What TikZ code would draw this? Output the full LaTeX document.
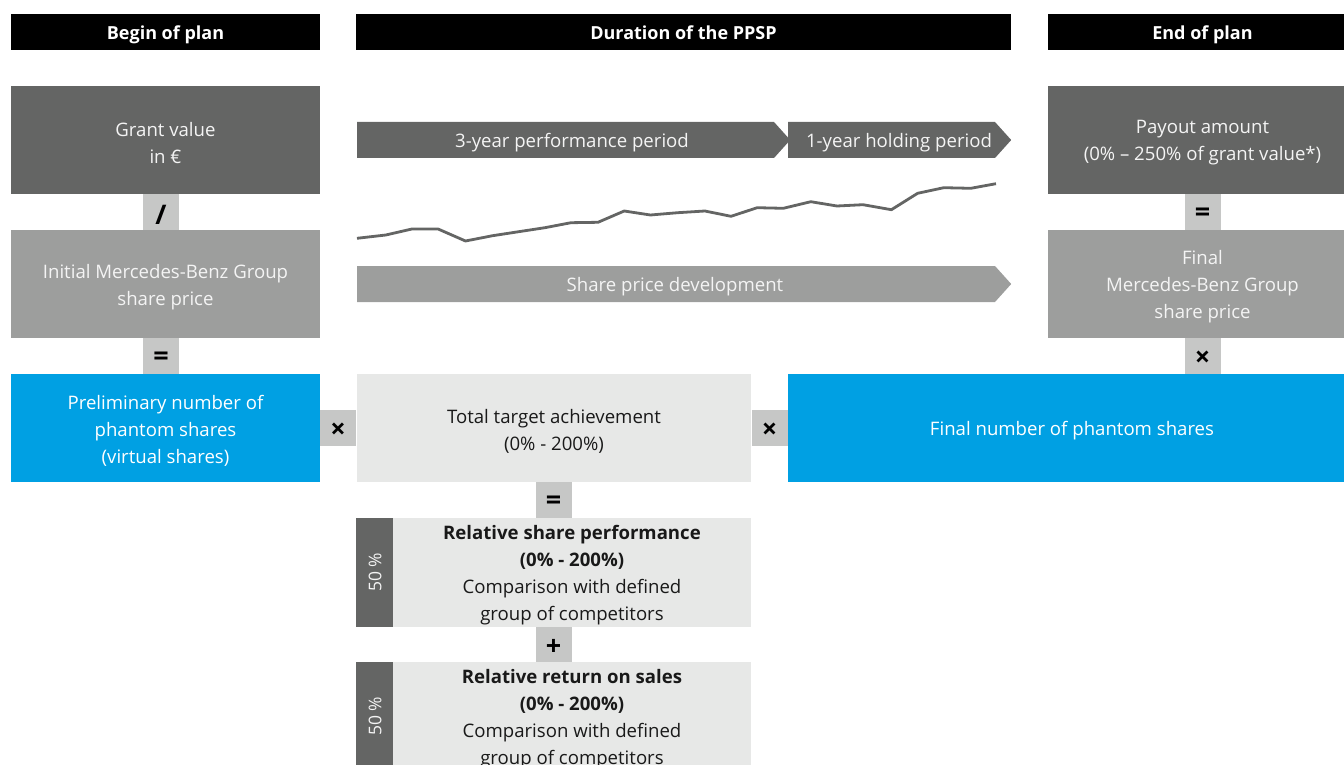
\documentclass[tikz,border=0pt]{standalone}
\usepackage{fontspec}
\setmainfont{Open Sans}
\usetikzlibrary{shapes.symbols}

\definecolor{mbdark}{HTML}{646564}
\definecolor{mbmid}{HTML}{9D9E9D}
\definecolor{mbop}{HTML}{C6C7C6}
\definecolor{mblight}{HTML}{E7E8E7}
\definecolor{mbblue}{HTML}{00A0E3}
\definecolor{mbwhite}{HTML}{F4F4F4}

\tikzset{
  boxtext/.style={yshift=-3pt},
  headbar/.style={fill=black, minimum height=36pt},
  headtext/.style={boxtext, text=white, font=\fontsize{18}{27}\selectfont\bfseries},
  darkbox/.style={fill=mbdark, minimum height=108pt},
  midbox/.style={fill=mbmid, minimum height=108pt},
  bluebox/.style={fill=mbblue, minimum height=108pt},
  lightbox/.style={fill=mblight, minimum height=109pt},
  whitetext/.style={boxtext, text=mbwhite},
  blacktext/.style={boxtext, text=black!90},
  opbox/.style={fill=mbop, minimum width=36pt, minimum height=36pt},
  optext/.style={boxtext, text=black, font=\fontsize{27}{27}\selectfont\bfseries},
  weightbox/.style={fill=mbdark, minimum width=37pt, minimum height=109pt},
  period/.style={signal, signal to=east, signal pointer angle=96, minimum height=36pt, anchor=west},
}

\begin{document}
\begin{tikzpicture}[x=1pt, y=-1pt,
    every node/.style={inner sep=0pt, align=center, font=\fontsize{18.6}{27}\selectfont}]
  \useasboundingbox (0,0) rectangle (1344,765);
  \clip (0,0) rectangle (1344,765);

  % headers
  \node[headbar, minimum width=309pt] (hbegin) at (165.5,32) {};
  \node[headtext] (hbegintext) at (hbegin) {Begin of plan};
  \node[headbar, minimum width=655pt] (hduration) at (683.5,32) {};
  \node[headtext, yshift=2pt] (hdurationtext) at (hduration) {Duration of the PPSP};
  \node[headbar, minimum width=309pt] (hend) at (1202.5,32) {};
  \node[headtext] (hendtext) at (hend) {End of plan};

  % begin of plan
  \node[darkbox, minimum width=309pt] (grant) at (165.5,140) {};
  \node[whitetext] (granttext) at (grant) {Grant value\\in €};
  \node[opbox] (div) at (161,212) {};
  \node[optext] (divtext) at (div) {/};
  \node[midbox, minimum width=309pt] (initprice) at (165.5,284) {};
  \node[whitetext] (initpricetext) at (initprice) {Initial Mercedes-Benz Group\\share price};
  \node[opbox] (eqleft) at (161,356) {};
  \node[optext] (eqlefttext) at (eqleft) {=};
  \node[bluebox, minimum width=309pt] (prelim) at (165.5,428) {};
  \node[whitetext, text=white] (prelimtext) at (prelim) {Preliminary number of\\phantom shares\\(virtual shares)};

  % duration
  \node[period, fill=mbdark, minimum width=433pt] (perf) at (357,140) {};
  \node[whitetext] (perftext) at (572,140) {3-year performance period};
  \node[period, fill=mbdark, minimum width=223pt] (hold) at (788,140) {};
  \node[whitetext] (holdtext) at (899,140) {1-year holding period};
  \node[period, fill=mbmid, minimum width=654pt] (shareprice) at (357,284) {};
  \node[whitetext] (sharepricetext) at (675,284) {Share price development};
  \draw[mbdark, line width=2.8pt, line join=round]
    plot coordinates {(357,238.3) (385.8,235) (411.9,229) (438.1,229) (465.5,241)
      (492.6,235.7) (518.7,231.7) (544.9,227.7) (571,222.7) (598,222.3) (624.2,211)
      (650.4,215) (677.8,212.7) (704.9,211) (731,216.3) (757.2,207.7) (783.3,208.3)
      (810.8,201.7) (837,206) (863,204.7) (891.4,209.7) (917.6,193.3) (943.8,187.7)
      (970.8,188.3) (996,183.7)};

  % middle row
  \node[opbox] (timesleft) at (338,428) {};
  \node[optext] (timeslefttext) at (timesleft) {×};
  \node[lightbox, minimum width=394pt, minimum height=108pt] (total) at (554,428) {};
  \node[blacktext] (totaltext) at (total) {Total target achievement\\(0\% - 200\%)};
  \node[opbox] (timesright) at (769.5,428) {};
  \node[optext] (timesrighttext) at (timesright) {×};
  \node[bluebox, minimum width=568pt] (final) at (1072,428) {};
  \node[whitetext, text=white] (finaltext) at (final) {Final number of phantom shares};

  % target components
  \node[opbox] (eqtotal) at (553.5,500) {};
  \node[optext] (eqtotaltext) at (eqtotal) {=};
  \node[weightbox] (wshare) at (374.5,572.5) {};
  \node[rotate=90, text=mbwhite, font=\fontsize{17.5}{18}\selectfont] (wsharetext) at (375,572.5) {50 \%};
  \node[lightbox, minimum width=358pt] (relshare) at (572,572.5) {};
  \node[blacktext] (relsharetext) at (relshare)
    {\textbf{Relative share performance}\\\textbf{(0\% - 200\%)}\\Comparison with defined\\group of competitors};
  \node[opbox] (plus) at (553.5,644.5) {};
  \node[optext] (plustext) at (plus) {+};
  \node[weightbox] (wsales) at (374.5,716.5) {};
  \node[rotate=90, text=mbwhite, font=\fontsize{17.5}{18}\selectfont] (wsalestext) at (375,716.5) {50 \%};
  \node[lightbox, minimum width=358pt] (relsales) at (572,716.5) {};
  \node[blacktext] (relsalestext) at (relsales)
    {\textbf{Relative return on sales}\\\textbf{(0\% - 200\%)}\\Comparison with defined\\group of competitors};

  % end of plan
  \node[darkbox, minimum width=309pt] (payout) at (1202.5,140) {};
  \node[whitetext] (payouttext) at (payout) {Payout amount\\(0\% – 250\% of grant value*)};
  \node[opbox] (eqright) at (1202.5,212) {};
  \node[optext] (eqrighttext) at (eqright) {=};
  \node[midbox, minimum width=309pt] (finalprice) at (1202.5,284) {};
  \node[whitetext] (finalpricetext) at (finalprice) {Final\\Mercedes-Benz Group\\share price};
  \node[opbox] (timesend) at (1202.5,356) {};
  \node[optext] (timesendtext) at (timesend) {×};
\end{tikzpicture}
\end{document}
